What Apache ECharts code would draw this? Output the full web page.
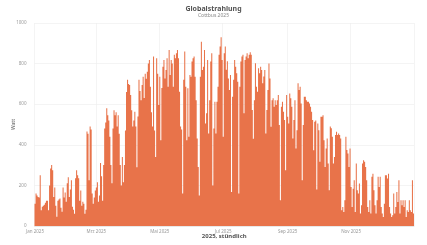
<!DOCTYPE html>
<html>
<head>
<meta charset="utf-8">
<script src="https://cdn.jsdelivr.net/npm/echarts@6/dist/echarts.min.js"></script>
<style>
html,body{margin:0;padding:0;background:#fff;}
#c{width:427px;height:245px;}
</style>
</head>
<body>
<div id="c"></div>
<script>
// Daily peak of hourly global radiation (W/m²), Cottbus 2025
const dailyPeak = [
  110,160,150,143,140,250,77,95,100,105,115,125,125,77,200,283,300,275,143,190,
  100,45,125,130,135,90,70,190,140,165,120,210,240,143,180,225,95,80,60,235,
  275,250,235,125,175,100,120,110,60,80,465,455,225,490,475,160,110,140,175,190,
  215,120,150,310,245,125,300,480,510,580,545,520,440,300,210,480,570,545,560,490,
  545,455,300,200,340,215,300,470,
  660,720,700,695,645,570,490,520,563,490,290,540,
  720,665,620,695,735,630,750,725,760,800,818,686,560,490,835,470,340,826,750,596,
  735,423,680,785,818,727,768,826,686,867,744,818,800,686,843,826,851,867,826,661,
  490,475,160,720,860,686,423,678,440,744,735,810,826,835,735,620,431,291,150,735,
  908,769,785,867,505,555,818,456,620,810,851,200,480,612,456,612,686,843,884,930,
  818,440,851,884,770,811,727,670,744,168,637,720,818,785,752,711,160,686,810,835,
  843,555,818,835,851,826,843,856,843,571,430,620,802,686,661,777,752,785,769,703,
  736,769,456,571,670,800,727,489,620,629,588,620,596,620,645,497,127,588,612,563,
  522,275,645,538,505,653,629,588,431,522,620,382,472,703,670,686,604,225,497,637,
  637,620,612,612,604,588,563,522,373,514,520,180,505,472,
  316,538,538,546,423,291,382,431,308,176,490,481,440,308,340,448,464,448,456,448,
  431,77,94,69,127,
  440,374,357,291,382,192,94,184,225,69,308,176,160,209,61,102,308,324,316,291,
  225,94,69,127,61,242,258,176,102,61,127,242,192,242,94,61,44,110,250,250,
  234,258,94,61,44,53,160,61,94,168,118,225,61,127,102,127,94,127,44,77,
  69,127,77,69,225,61
];
const tickMonths = [0, 2, 4, 6, 8, 10];
const tickLabels = ['Jan 2025', 'Mrz 2025', 'Mai 2025', 'Jul 2025', 'Sep 2025', 'Nov 2025'];
const yTicks = [0, 200, 400, 600, 800, 1000];

// day categories for 2025
const days = [];
for (let i = 0; i < dailyPeak.length; i++) {
  const d = new Date(Date.UTC(2025, 0, 1 + i));
  days.push(d.getUTCFullYear() + '-' + (d.getUTCMonth() + 1) + '-' + d.getUTCDate());
}
function isTick(index) {
  const d = new Date(Date.UTC(2025, 0, 1 + index));
  return d.getUTCDate() === 1 && tickMonths.indexOf(d.getUTCMonth()) >= 0;
}
function labelFor(value) {
  const m = parseInt(value.split('-')[1], 10) - 1;
  const k = tickMonths.indexOf(m);
  return k >= 0 ? tickLabels[k] : '';
}

const chart = echarts.init(document.getElementById('c'), null, {renderer: 'canvas'});
chart.setOption({
  animation: false,
  backgroundColor: '#fff',
  textStyle: {fontFamily: 'Noto Sans'},
  title: {
    text: 'Globalstrahlung',
    subtext: 'Cottbus 2025',
    left: 'center',
    top: 0,
    itemGap: 1,
    textStyle: {fontSize: 7, fontWeight: 'bold', color: '#555', fontFamily: 'Noto Sans'},
    subtextStyle: {fontSize: 5, color: '#888', fontFamily: 'Noto Sans'}
  },
  grid: {left: 34.5, right: 13, top: 23, bottom: 19, containLabel: false, outerBoundsMode: 'none'},
  xAxis: {
    type: 'category',
    data: days,
    boundaryGap: true,
    name: '2025, stündlich',
    nameLocation: 'middle',
    nameMoveOverlap: false,
    nameGap: 7,
    nameTextStyle: {fontSize: 6, fontWeight: 'bold', color: '#555'},
    axisLine: {show: true, lineStyle: {color: '#ddd', width: 0.5}},
    axisTick: {show: false},
    axisLabel: {
      interval: function (i) { return isTick(i); },
      formatter: labelFor,
      fontSize: 4.5,
      color: '#999',
      margin: 3
    },
    splitLine: {
      show: true,
      interval: function (i) { return isTick(i); },
      lineStyle: {color: '#ececec', width: 0.6}
    }
  },
  yAxis: {
    type: 'value',
    min: 0,
    max: 1000,
    interval: 200,
    name: 'Watt',
    nameLocation: 'middle',
    nameMoveOverlap: false,
    nameGap: 18,
    nameTextStyle: {fontSize: 5, color: '#666'},
    axisLine: {show: false},
    axisTick: {show: false},
    axisLabel: {fontSize: 4.5, color: '#999', margin: 8,
      formatter: function (v) { return yTicks.indexOf(v) >= 0 ? String(v) : ''; }},
    splitLine: {show: true, lineStyle: {color: '#ececec', width: 0.6}}
  },
  series: [{
    type: 'bar',
    data: dailyPeak,
    barCategoryGap: '0%',
    barWidth: '100%',
    large: true,
    largeThreshold: 50,
    itemStyle: {color: '#e8734a'}
  }]
});
</script>
</body>
</html>
